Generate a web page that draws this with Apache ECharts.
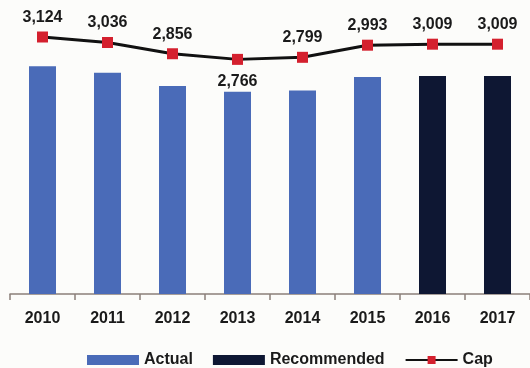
<!DOCTYPE html>
<html>
<head>
<meta charset="utf-8">
<script src="https://cdn.jsdelivr.net/npm/echarts@6/dist/echarts.min.js"></script>
<style>
html,body{margin:0;padding:0;background:#fcfcfa;}
#c{width:530px;height:368px;}
</style>
</head>
<body>
<div id="c"></div>
<script>
const categories = ['2010', '2011', '2012', '2013', '2014', '2015', '2016', '2017'];
const actual = [3145, 3055, 2870, 2790, 2810, 2995, null, null];
const recommended = [null, null, null, null, null, null, 3009, 3009];
const cap = [3124, 3036, 2856, 2766, 2799, 2993, 3009, 3009];
const capLabelBelow = ['2013'];
const seriesNames = ['Actual', 'Recommended', 'Cap'];

const FONT = '"Liberation Sans", Arial, sans-serif';
const chart = echarts.init(document.getElementById('c'), null, {renderer: 'canvas'});

const capData = cap.map((v, i) => ({
  value: v,
  label: { position: capLabelBelow.includes(categories[i]) ? 'bottom' : 'top',
           distance: capLabelBelow.includes(categories[i]) ? 9 : 6 }
}));

chart.setOption({
  backgroundColor: '#fcfcfa',
  animation: false,
  grid: { left: 10, top: 20, width: 533, bottom: 74 },
  legend: {
    left: 82, top: 347,
    itemWidth: 52, itemHeight: 10, itemGap: 20,
    textStyle: { fontFamily: FONT, fontWeight: 'bold', fontSize: 16, color: '#1a1a1a' },
    data: [
      { name: seriesNames[0], icon: 'rect' },
      { name: seriesNames[1], icon: 'rect' },
      { name: seriesNames[2] }
    ]
  },
  xAxis: {
    type: 'category',
    data: categories,
    axisLine: { lineStyle: { color: '#8a7f7a', width: 1.5 } },
    axisTick: { show: true, length: 6, lineStyle: { color: '#8a7f7a', width: 1.5 } },
    axisLabel: { margin: 17, fontFamily: FONT, fontWeight: 'bold', fontSize: 16, color: '#1a1a1a' }
  },
  yAxis: [
    { type: 'value', min: 0, max: 3782, show: false, splitLine: { show: false } },
    { type: 'value', min: -988, max: 3396, show: false, splitLine: { show: false } }
  ],
  series: [
    { name: seriesNames[0], type: 'bar', data: actual, barWidth: 27, barGap: '-100%',
      itemStyle: { color: '#4a6bb8' } },
    { name: seriesNames[1], type: 'bar', data: recommended, barWidth: 27,
      itemStyle: { color: '#0e1733' } },
    { name: seriesNames[2], type: 'line', yAxisIndex: 1, data: capData, z: 5,
      symbol: 'rect', symbolSize: 11,
      lineStyle: { color: '#111111', width: 3 },
      itemStyle: { color: '#d4202e' },
      label: { show: true, fontFamily: FONT, fontWeight: 'bold', fontSize: 16, color: '#1a1a1a',
               formatter: p => p.value.toLocaleString('en-US') } }
  ]
});
</script>
</body>
</html>
